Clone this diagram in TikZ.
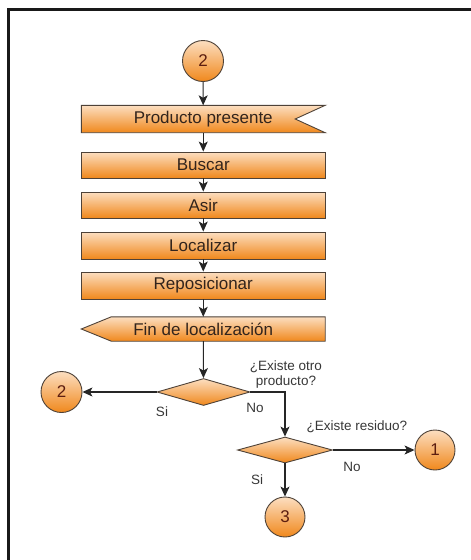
\documentclass[tikz,border=0pt]{standalone}
\usepackage{fontspec}
\setmainfont{Liberation Sans}
\usetikzlibrary{arrows.meta,shapes.geometric,backgrounds}

\definecolor{boxtop}{RGB}{252,222,192}
\definecolor{boxbot}{RGB}{240,136,28}
\definecolor{edge}{RGB}{78,66,56}
\definecolor{digit}{RGB}{92,30,16}
\definecolor{ink}{RGB}{50,36,28}
\definecolor{note}{RGB}{55,55,55}

\tikzset{
  orange/.style={top color=boxtop, bottom color=boxbot},
  proc/.style={orange, draw=edge, line width=0.9pt, minimum width=243.5pt,
    minimum height=27pt, inner sep=0pt, text=ink, font=\fontsize{17}{17}\selectfont},
  flag/.style={minimum width=243.5pt, minimum height=27pt, inner sep=0pt,
    text=ink, font=\fontsize{17}{17}\selectfont},
  conn/.style={circle, orange, draw=edge, line width=0.9pt, minimum size=41pt,
    inner sep=0pt, text=digit, font=\fontsize{17}{17}\selectfont},
  ask/.style={diamond, orange, draw=edge, line width=0.9pt, inner sep=0pt},
  lbl/.style={text=note, font=\fontsize{13.5}{15}\selectfont, inner sep=0pt},
  link/.style={->, line width=1.1pt, black!85}
}

\begin{document}
\begin{tikzpicture}[x=1pt, y=-1pt, >={Stealth[length=10pt,width=9pt,inset=2.5pt]}]
  \useasboundingbox (0,0) rectangle (471,560);
  % page frame, only the top and left edges show
  \draw[line width=3pt, black!90] (8.5,560) -- (8.5,9) -- (471,9);

  % main column
  \node[conn] (start) at (203,61) {2};
  \node[flag] (recv) at (203.25,119) {Producto presente};
  \node[proc, minimum height=26pt] (buscar) at (203.25,165) {Buscar};
  \node[proc, minimum height=26pt] (asir) at (203.25,205) {Asir};
  \node[proc] (localizar) at (203.25,245.5) {Localizar};
  \node[proc] (repos) at (203.25,285.5) {Reposicionar};
  \node[flag, minimum height=24pt] (fin) at (203.25,329) {Fin de localización};

  % signal shapes behind their text
  \begin{scope}[on background layer]
    \shade[orange, draw=edge, line width=0.9pt]
      (recv.north west) -- (recv.north east) -- ([xshift=-30pt]recv.east)
      -- (recv.south east) -- (recv.south west) -- cycle;
    \shade[orange, draw=edge, line width=0.9pt]
      ([xshift=30pt]fin.north west) -- (fin.north east) -- (fin.south east)
      -- ([xshift=30pt]fin.south west) -- (fin.west) -- cycle;
  \end{scope}

  % decisions
  \node[ask, minimum width=93pt, minimum height=27pt] (otro) at (203.5,392) {};
  \node[ask, minimum width=95pt, minimum height=26pt] (resid) at (285,450) {};
  \node[conn] (back) at (61.5,392) {2};
  \node[conn, minimum size=40pt] (one) at (435,450) {1};
  \node[conn, minimum size=40pt] (three) at (285,517) {3};

  \draw[link] (start) -- (recv);
  \draw[link] (recv) -- (buscar);
  \draw[link] (buscar) -- (asir);
  \draw[link] (asir) -- (localizar);
  \draw[link] (localizar) -- (repos);
  \draw[link] (repos) -- (fin);
  \draw[link] (fin) -- (otro);
  \draw[link] (otro) -- (back);
  \draw[link] (otro.east) -| (resid.north);
  \draw[link] (resid) -- (one);
  \draw[link] (resid) -- (three);

  % branch labels
  \node[lbl, align=center] (q1) at (286,375) {¿Existe otro\\producto?};
  \node[lbl] (q2) at (357,427) {¿Existe residuo?};
  \node[lbl] (si1) at (162,412) {Si};
  \node[lbl] (no1) at (255,408) {No};
  \node[lbl] (no2) at (352,467) {No};
  \node[lbl] (si2) at (257,480) {Si};
\end{tikzpicture}
\end{document}
